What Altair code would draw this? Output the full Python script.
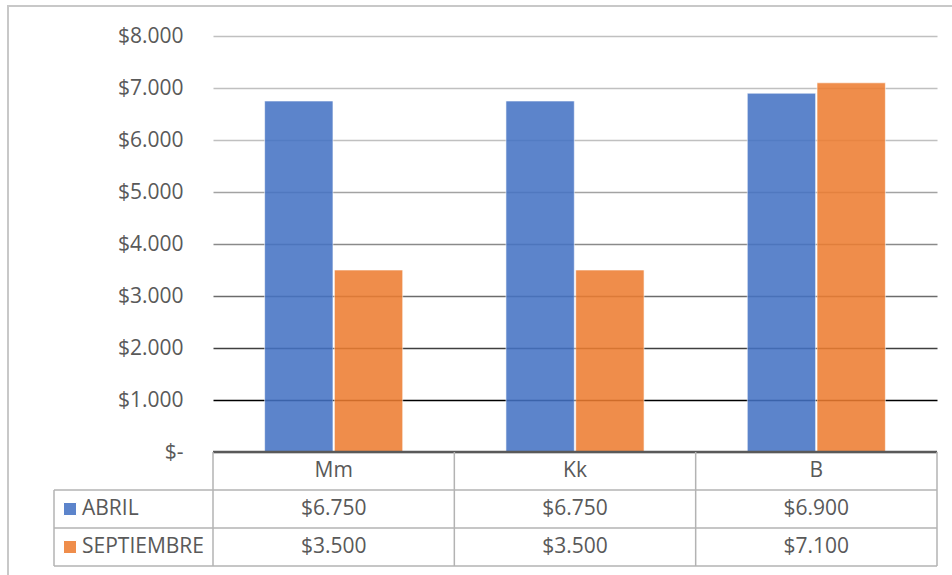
import altair as alt
import pandas as pd

# ---- data ----
categories = ["Mm", "Kk", "B"]
series_names = ["ABRIL", "SEPTIEMBRE"]
abril = [6750, 6750, 6900]
septiembre = [3500, 3500, 7100]
y_ticks = [0, 1000, 2000, 3000, 4000, 5000, 6000, 7000, 8000]
colors = ["#4472C4", "#ED7D31"]
table_rows = ["header"] + series_names

rows = []
for i, c in enumerate(categories):
    rows.append({"cat": c, "series": "ABRIL", "value": abril[i]})
    rows.append({"cat": c, "series": "SEPTIEMBRE", "value": septiembre[i]})
df = pd.DataFrame(rows)
header_df = pd.DataFrame({"cat": categories, "row": ["header"] * len(categories)})
series_df = pd.DataFrame({"series": series_names})
hline_df = pd.DataFrame({"row": table_rows})
vline_df = pd.DataFrame({"cat": categories})
zero_df = pd.DataFrame({"value": [0]})

FONT = "Open Sans"
TXT = "#595959"
FS = 21
W, H = 724, 530
PLOT_H = 416
LEG_X = -159

x_scale = alt.Scale(domain=categories, paddingInner=0, paddingOuter=0)
y_scale = alt.Scale(domain=[0, 8000], range=[PLOT_H, 0])
row_scale = alt.Scale(type="band", domain=table_rows, range=[PLOT_H, H], paddingInner=0, paddingOuter=0)
color_scale = alt.Scale(domain=series_names, range=colors)

grid_color = {
    "condition": [
        {"test": "datum.value == 1000", "value": "#000000"},
        {"test": "datum.value == 2000", "value": "#404040"},
        {"test": "datum.value == 3000", "value": "#6b6b6b"},
        {"test": "datum.value == 4000", "value": "#8a8a8a"},
        {"test": "datum.value == 5000", "value": "#a3a3a3"},
    ],
    "value": "#c0c0c0",
}

fmt = "'$' + replace(format(datum.value, ',.0f'), ',', '.')"

y_axis = alt.Axis(values=y_ticks, labelExpr="datum.value == 0 ? '$-' : " + fmt,
                  labelFont=FONT, labelFontSize=FS, labelColor=TXT,
                  ticks=False, domain=False, labelPadding=30, title=None,
                  grid=True, gridColor=grid_color, gridWidth=1.5)

bars = alt.Chart(df).mark_bar(opacity=0.87, stroke="white", strokeWidth=1, strokeOpacity=0.6).encode(
    x=alt.X("cat:N", sort=categories, scale=x_scale, axis=None),
    xOffset=alt.XOffset("series:N", sort=series_names,
                        scale=alt.Scale(domain=series_names, paddingInner=0.02, paddingOuter=0.74)),
    y=alt.Y("value:Q", scale=y_scale, axis=y_axis),
    color=alt.Color("series:N", scale=color_scale, legend=None),
)

axis_line = alt.Chart(zero_df).mark_rule(color="#595959", strokeWidth=2.5).encode(
    y=alt.Y("value:Q", scale=y_scale, axis=y_axis)
)

bar_layer = alt.layer(bars, axis_line)

# ---- data table ----
hlines = alt.Chart(hline_df).mark_rule(color="#b3b3b3", strokeWidth=1.5).encode(
    y=alt.Y("row:N", scale=row_scale, axis=None, bandPosition=1),
    x=alt.value(LEG_X), x2=alt.value(W),
)
vlines = alt.Chart(vline_df).mark_rule(color="#b3b3b3", strokeWidth=1.5).encode(
    x=alt.X("cat:N", scale=x_scale, axis=None, bandPosition=0),
    y=alt.value(PLOT_H), y2=alt.value(H),
)
vline_end = alt.Chart(vline_df.tail(1)).mark_rule(color="#b3b3b3", strokeWidth=1.5).encode(
    x=alt.X("cat:N", scale=x_scale, axis=None, bandPosition=1),
    y=alt.value(PLOT_H), y2=alt.value(H),
)
vline_left = alt.Chart(series_df.head(1)).mark_rule(color="#b3b3b3", strokeWidth=1.5).encode(
    y=alt.Y("series:N", scale=row_scale, axis=None, bandPosition=0),
    y2=alt.value(H), x=alt.value(LEG_X),
)

header_text = alt.Chart(header_df).mark_text(font=FONT, fontSize=FS, color=TXT, baseline="middle").encode(
    x=alt.X("cat:N", scale=x_scale, axis=None),
    y=alt.Y("row:N", scale=row_scale, axis=None, bandPosition=0.5),
    text="cat:N",
)
value_text = alt.Chart(df).transform_calculate(label=fmt).mark_text(
    font=FONT, fontSize=FS, color=TXT, baseline="middle").encode(
    x=alt.X("cat:N", scale=x_scale, axis=None),
    y=alt.Y("series:N", scale=row_scale, axis=None, bandPosition=0.5),
    text="label:N",
)
legend_sq = alt.Chart(series_df).mark_square(size=169, opacity=0.87, stroke="white", strokeWidth=1).encode(
    x=alt.value(-143),
    y=alt.Y("series:N", scale=row_scale, axis=None, bandPosition=0.5),
    color=alt.Color("series:N", scale=color_scale, legend=None),
)
legend_txt = alt.Chart(series_df).mark_text(font=FONT, fontSize=FS, color=TXT, align="left",
                                           baseline="middle").encode(
    x=alt.value(-131),
    y=alt.Y("series:N", scale=row_scale, axis=None, bandPosition=0.5),
    text="series:N",
)
border = alt.Chart(zero_df).mark_rect(fill="transparent", stroke="#c8c8c8", strokeWidth=2).encode(
    x=alt.value(-205), x2=alt.value(760), y=alt.value(-30), y2=alt.value(560)
)

table_layer = alt.layer(hlines, vlines, vline_end, vline_left, header_text, value_text,
                        legend_sq, legend_txt, border)

chart = alt.layer(bar_layer, table_layer).resolve_scale(y="independent").properties(
    width=W, height=H,
    padding={"left": 213, "top": 36, "right": 15, "bottom": 9},
    autosize="none",
    background="white",
).configure_view(stroke=None)

chart.save("out.html", embed_options={"renderer": "svg", "actions": False})
